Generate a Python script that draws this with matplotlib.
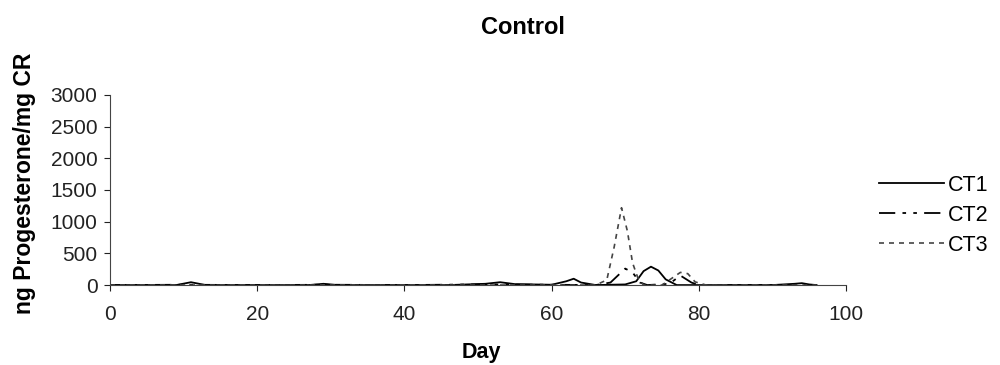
import matplotlib.pyplot as plt

plt.rcParams['font.family'] = ['Liberation Sans', 'DejaVu Sans']

# progesterone data (day, ng/mg CR)
ct1_day = [0, 5, 9, 11, 13, 20, 27, 29, 31, 40, 46, 51, 53, 55, 60, 62, 63, 64, 66, 70, 71.5, 72.5, 73.5, 74.5, 75.5, 77, 80, 90, 93, 94, 95, 96]
ct1_val = [0, 0, 0, 45, 0, 0, 0, 20, 0, 0, 0, 20, 45, 15, 5, 60, 100, 40, 0, 10, 60, 220, 290, 230, 90, 0, 0, 0, 20, 30, 10, 0]

ct2_day = [0, 10, 20, 30, 40, 50, 60, 66, 68, 69, 70, 71, 72, 73, 76, 77.5, 79, 80, 90, 96]
ct2_val = [0, 5, 0, 5, 0, 10, 5, 0, 40, 150, 260, 200, 40, 0, 20, 150, 40, 0, 0, 0]

ct3_day = [0, 20, 40, 60, 66, 67.5, 68.5, 69.5, 70.3, 71, 71.7, 72.5, 75, 76.5, 77.5, 78.5, 79.5, 81, 96]
ct3_val = [0, 0, 0, 0, 0, 80, 600, 1220, 850, 350, 120, 0, 0, 120, 200, 180, 50, 0, 0]

xticks = [0, 20, 40, 60, 80, 100]
yticks = [0, 500, 1000, 1500, 2000, 2500, 3000]

fig = plt.figure(figsize=(10, 3.65), dpi=100)
ax = fig.add_axes([0.11, 0.219, 0.736, 0.521])

ax.plot(ct1_day, ct1_val, color='black', lw=1.3, label='CT1')
ax.plot(ct2_day, ct2_val, color='black', lw=1.3, linestyle=(0, (9, 4, 2, 4, 2, 4)), label='CT2')
ax.plot(ct3_day, ct3_val, color='#444444', lw=1.2, linestyle=(0, (3, 3)), label='CT3')

ax.set_xlim(0, 100)
ax.set_ylim(0, 3000)
ax.set_xticks(xticks)
ax.set_yticks(yticks)
ax.tick_params(labelsize=15, colors='#222222', length=4)
ax.tick_params(axis='x', pad=10)
ax.tick_params(axis='y', pad=5)
ax.spines['top'].set_visible(False)
ax.spines['right'].set_visible(False)
for s in ('left', 'bottom'):
    ax.spines[s].set_color('#444444')

ax.set_xlabel('Day', fontsize=15.5, fontweight='bold', va='center')
ax.xaxis.set_label_coords(0.505, -0.353)
ax.set_ylabel('ng Progesterone/mg CR', fontsize=16.5, fontweight='bold', va='center')
ax.yaxis.set_label_coords(-0.1155, 0.537)

fig.text(0.523, 0.925, 'Control', ha='center', va='center', fontsize=17, fontweight='bold')

ax.legend(loc='center left', bbox_to_anchor=(0.879, 0.41), bbox_transform=fig.transFigure,
          frameon=False, fontsize=15.5, handlelength=3.0, handletextpad=0.2, labelspacing=0.42,
          borderpad=0, borderaxespad=0)

plt.savefig('out.png')
